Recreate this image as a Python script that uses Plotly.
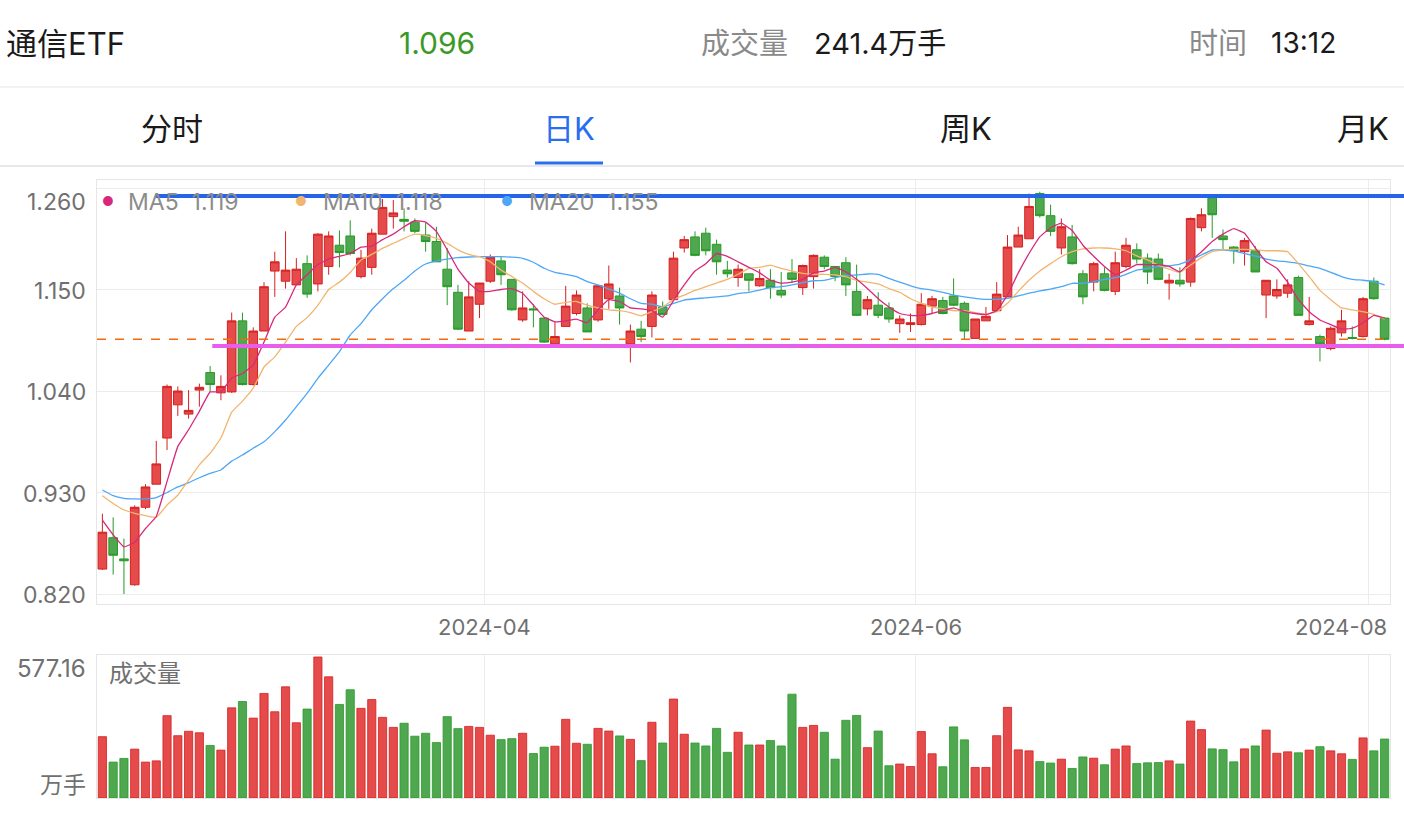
import plotly.graph_objects as go

# ---------------- data ----------------
open_ = [0.847,0.881,0.858,0.830,0.914,0.939,0.989,1.025,1.015,1.041,
         1.060,1.038,1.039,1.116,1.047,1.105,1.170,1.159,1.155,1.178,
         1.156,1.175,1.198,1.208,1.164,1.174,1.210,1.229,1.226,1.223,
         1.209,1.202,1.172,1.147,1.105,1.134,1.159,1.181,1.161,1.117,
         1.129,1.119,1.091,1.110,1.124,1.130,1.117,1.140,1.143,1.091,
         1.107,1.110,1.131,1.139,1.195,1.207,1.211,1.199,1.171,1.163,
         1.167,1.154,1.160,1.149,1.168,1.152,1.164,1.185,1.175,1.179,
         1.148,1.129,1.133,1.130,1.113,1.112,1.112,1.132,1.138,1.143,
         1.135,1.097,1.116,1.127,1.142,1.196,1.205,1.254,1.230,1.195,
         1.207,1.167,1.158,1.167,1.148,1.175,1.193,1.184,1.183,1.157,
         1.160,1.158,1.217,1.249,1.208,1.196,1.191,1.192,1.144,1.143,
         1.146,1.163,1.112,1.099,1.086,1.103,1.098,1.099,1.159,1.119]
high = [0.907,0.903,0.880,0.916,0.939,0.986,1.047,1.045,1.041,1.048,
        1.067,1.057,1.125,1.125,1.109,1.158,1.191,1.213,1.184,1.187,
        1.211,1.213,1.214,1.225,1.193,1.216,1.248,1.247,1.238,1.227,
        1.222,1.218,1.195,1.155,1.159,1.157,1.188,1.186,1.161,1.148,
        1.134,1.119,1.115,1.154,1.149,1.135,1.155,1.176,1.152,1.112,
        1.116,1.148,1.137,1.191,1.208,1.213,1.217,1.204,1.181,1.177,
        1.167,1.172,1.172,1.169,1.183,1.177,1.188,1.187,1.175,1.185,
        1.177,1.143,1.147,1.136,1.122,1.124,1.146,1.143,1.142,1.162,
        1.137,1.118,1.131,1.158,1.209,1.218,1.254,1.256,1.242,1.227,
        1.220,1.171,1.180,1.174,1.191,1.206,1.200,1.189,1.189,1.167,
        1.174,1.228,1.238,1.251,1.215,1.197,1.206,1.197,1.160,1.161,
        1.161,1.165,1.142,1.101,1.110,1.128,1.110,1.142,1.163,1.120]
low = [0.846,0.841,0.820,0.829,0.912,0.939,0.976,1.013,1.010,1.023,
       1.039,1.030,1.038,1.046,1.046,1.105,1.142,1.151,1.155,1.141,
       1.148,1.166,1.174,1.187,1.162,1.166,1.210,1.216,1.213,1.211,
       1.191,1.180,1.133,1.106,1.105,1.119,1.157,1.155,1.127,1.115,
       1.109,1.092,1.089,1.110,1.122,1.104,1.115,1.129,1.112,1.071,
       1.093,1.098,1.122,1.139,1.190,1.186,1.187,1.166,1.163,1.153,
       1.148,1.153,1.140,1.141,1.157,1.144,1.151,1.172,1.159,1.143,
       1.122,1.122,1.119,1.114,1.103,1.104,1.111,1.124,1.123,1.132,
       1.096,1.097,1.116,1.127,1.142,1.196,1.205,1.228,1.208,1.188,
       1.177,1.134,1.148,1.148,1.144,1.173,1.178,1.156,1.160,1.139,
       1.153,1.153,1.213,1.206,1.193,1.178,1.176,1.169,1.119,1.140,
       1.141,1.122,1.111,1.072,1.084,1.099,1.096,1.098,1.139,1.095]
close = [0.887,0.862,0.856,0.914,0.936,0.961,1.045,1.040,1.019,1.044,
         1.047,1.045,1.116,1.047,1.105,1.153,1.180,1.171,1.172,1.145,
         1.210,1.208,1.190,1.189,1.184,1.211,1.239,1.233,1.224,1.213,
         1.202,1.180,1.153,1.107,1.142,1.157,1.185,1.166,1.128,1.130,
         1.128,1.093,1.099,1.132,1.144,1.104,1.154,1.156,1.130,1.105,
         1.099,1.144,1.123,1.184,1.204,1.187,1.192,1.180,1.167,1.172,
         1.160,1.162,1.152,1.144,1.161,1.176,1.187,1.175,1.164,1.155,
         1.122,1.139,1.122,1.118,1.118,1.114,1.134,1.140,1.124,1.133,
         1.105,1.118,1.121,1.145,1.196,1.209,1.240,1.230,1.213,1.218,
         1.178,1.142,1.178,1.149,1.179,1.198,1.183,1.169,1.161,1.160,
         1.156,1.227,1.231,1.231,1.204,1.192,1.203,1.169,1.160,1.150,
         1.155,1.122,1.116,1.091,1.108,1.116,1.097,1.140,1.140,1.096]
volume = [251,147,162,200,147,152,337,255,273,267,
          215,196,369,395,327,428,353,455,308,364,
          577.16,496,383,443,367,403,330,289,306,253,
          265,227,333,284,293,289,257,239,243,265,
          182,208,212,322,224,220,285,274,254,240,
          153,310,225,405,261,225,213,285,187,269,
          217,217,235,213,425,289,297,269,159,318,
          338,206,274,132,139,129,272,181,128,291,
          238,125,125,255,371,197,193,149,143,159,
          121,168,163,136,200,213,141,144,145,152,
          139,315,280,201,198,148,201,213,278,183,
          189,185,196,210,193,181,158,246,193,241.4]
ma5 = [0.900,0.884,0.871,0.876,0.891,0.904,0.942,0.980,0.998,1.018,
       1.039,1.039,1.054,1.059,1.068,1.093,1.120,1.131,1.155,1.166,
       1.177,1.183,1.186,1.189,1.196,1.197,1.204,1.210,1.218,1.2245,
       1.223,1.213,1.193,1.172,1.157,1.148,1.148,1.150,1.151,1.146,
       1.133,1.120,1.115,1.116,1.118,1.114,1.128,1.139,1.137,1.130,
       1.129,1.127,1.120,1.138,1.155,1.170,1.178,1.189,1.186,1.180,
       1.174,1.168,1.160,1.157,1.158,1.161,1.168,1.170,1.174,1.169,
       1.161,1.151,1.140,1.131,1.124,1.122,1.122,1.124,1.127,1.130,
       1.126,1.124,1.123,1.127,1.144,1.168,1.189,1.207,1.217,1.222,
       1.214,1.198,1.186,1.175,1.166,1.171,1.177,1.177,1.177,1.175,
       1.169,1.181,1.191,1.202,1.210,1.216,1.211,1.195,1.180,1.173,
       1.158,1.139,1.126,1.117,1.112,1.107,1.108,1.114,1.122,1.119]
ma10 = [0.9265,0.918,0.911,0.9075,0.905,0.903,0.9165,0.927,0.9435,0.960,
        0.9725,0.989,1.017,1.029,1.043,1.066,1.077,1.093,1.110,1.1195,
        1.133,1.150,1.158,1.1685,1.182,1.188,1.1945,1.200,1.2055,1.210,
        1.2085,1.2055,1.200,1.193,1.188,1.1855,1.180,1.171,1.164,1.157,
        1.148,1.140,1.134,1.136,1.137,1.133,1.130,1.128,1.127,1.125,
        1.1215,1.126,1.131,1.139,1.144,1.149,1.153,1.157,1.161,1.1665,
        1.173,1.174,1.1765,1.173,1.170,1.1675,1.1665,1.1665,1.1657,1.164,
        1.160,1.158,1.156,1.151,1.147,1.140,1.135,1.131,1.129,1.127,
        1.127,1.125,1.123,1.126,1.135,1.148,1.160,1.170,1.178,1.1855,
        1.191,1.194,1.195,1.195,1.194,1.192,1.1865,1.182,1.1765,1.172,
        1.1685,1.1765,1.1845,1.191,1.193,1.1935,1.1935,1.193,1.192,1.192,
        1.191,1.178,1.164,1.149,1.139,1.130,1.128,1.126,1.123,1.118]
ma20 = [0.9327,0.9265,0.9237,0.923,0.923,0.9245,0.930,0.936,0.9406,0.946,
        0.9508,0.9544,0.964,0.9706,0.978,0.985,0.996,1.0086,1.023,1.0375,
        1.0538,1.068,1.0826,1.1007,1.113,1.128,1.140,1.151,1.160,1.170,
        1.1776,1.181,1.183,1.1845,1.1852,1.1856,1.1856,1.1856,1.185,1.1838,
        1.1795,1.173,1.1686,1.1665,1.164,1.1585,1.155,1.1505,1.146,1.140,
        1.135,1.134,1.131,1.135,1.1386,1.140,1.141,1.142,1.143,1.1455,
        1.147,1.1494,1.152,1.153,1.155,1.1574,1.1595,1.160,1.1628,1.165,
        1.1657,1.1668,1.1665,1.162,1.158,1.154,1.151,1.1494,1.147,1.144,
        1.142,1.1405,1.1394,1.1394,1.1405,1.143,1.146,1.1484,1.1505,1.153,
        1.1567,1.1567,1.1585,1.161,1.1628,1.1665,1.171,1.173,1.1747,1.1757,
        1.1776,1.182,1.1874,1.1928,1.1928,1.192,1.189,1.1863,1.183,1.181,
        1.180,1.1784,1.1755,1.173,1.1686,1.164,1.161,1.160,1.1585,1.155]

month_labels = ["2024-04", "2024-06", "2024-08"]
month_start_idx = [36, 76, 118]          # first trading day of each labelled month
y_ticks = [0.820, 0.930, 1.040, 1.150, 1.260]
level_blue = 1.2513                       # drawn resistance line
level_blue_start = 4.9
level_magenta = 1.0888                    # drawn support line
level_magenta_start = 10.2
stock_name = "通信ETF"
quote_time = "13:12"
tabs = ["分时", "日K", "周K", "月K"]
active_tab = 1

# ---------------- styling ----------------
W, H = 1404, 816
FONT = "Inter, Noto Sans CJK SC, sans-serif"
RED, RED_LINE = "#E54B4B", "#D42020"
GREEN, GREEN_LINE = "#4FA84F", "#279A27"
C_MA5, C_MA10, C_MA20 = "#D8287C", "#F2B56E", "#4DA7F7"
GRID = "#ECECEC"
LABEL = "#707070"

def PX(p): return p / W
def PY(p): return 1 - p / H

N = len(close)
idx = list(range(N))

# price panel geometry
P_TOP, P_BOT = 180, 604          # box pixels
G_TOP, G_BOT = 188, 594          # pixels of 1.26 and 0.82
k = (y_ticks[-1] - y_ticks[0]) / (G_BOT - G_TOP)
y_lo = y_ticks[0] - (P_BOT - G_BOT) * k
y_hi = y_ticks[-1] + (G_TOP - P_TOP) * k
X_L, X_R = 97, 1390
V_TOP, V_BOT = 655, 798
vmax = max(volume)
v_hi = vmax * (V_BOT - V_TOP) / (V_BOT - 657)

def val_to_paper(v):
    d0, d1 = PY(P_BOT), PY(P_TOP)
    return d0 + (v - y_lo) / (y_hi - y_lo) * (d1 - d0)

def idx_to_paper(i):
    return PX(X_L) + (i + 0.5) / N * (PX(X_R) - PX(X_L))

fig = go.Figure()

fig.add_trace(go.Candlestick(
    x=idx, open=open_, high=high, low=low, close=close,
    increasing=dict(fillcolor=RED, line=dict(color=RED_LINE, width=1)),
    decreasing=dict(fillcolor=GREEN, line=dict(color=GREEN_LINE, width=1)),
    whiskerwidth=0, xaxis="x", yaxis="y", hoverinfo="skip", showlegend=False))

for ma, col in [(ma20, C_MA20), (ma10, C_MA10), (ma5, C_MA5)]:
    fig.add_trace(go.Scatter(x=idx, y=ma, mode="lines",
                             line=dict(color=col, width=1.3, shape="spline", smoothing=0.3),
                             xaxis="x", yaxis="y", hoverinfo="skip", showlegend=False))

up = [c >= o for o, c in zip(open_, close)]
fig.add_trace(go.Bar(
    x=idx, y=volume, width=0.76,
    marker=dict(color=[RED if u else GREEN for u in up],
                line=dict(color=[RED_LINE if u else GREEN_LINE for u in up], width=0.8)),
    xaxis="x2", yaxis="y2", hoverinfo="skip", showlegend=False))

grid_x = [i - 0.5 for i in month_start_idx]

axis_common = dict(showline=True, mirror=True, linecolor="#E6E6E6", linewidth=1,
                   zeroline=False, fixedrange=True, ticks="")
fig.update_layout(
    width=W, height=H, autosize=False,
    margin=dict(l=0, r=0, t=0, b=0),
    paper_bgcolor="white", plot_bgcolor="white",
    boxgap=0.2, boxgroupgap=0,
    font=dict(family=FONT),
    xaxis=dict(domain=[PX(X_L), PX(X_R)], range=[-0.5, N - 0.5], anchor="y",
               tickvals=grid_x, showticklabels=False, showgrid=True, gridcolor=GRID,
               rangeslider=dict(visible=False), **axis_common),
    yaxis=dict(domain=[PY(P_BOT), PY(P_TOP)], range=[y_lo, y_hi], anchor="x",
               tickvals=y_ticks, showticklabels=False, showgrid=True, gridcolor=GRID,
               **axis_common),
    xaxis2=dict(domain=[PX(X_L), PX(X_R)], range=[-0.5, N - 0.5], anchor="y2",
                tickvals=grid_x, showticklabels=False, showgrid=True, gridcolor=GRID,
                **axis_common),
    yaxis2=dict(domain=[PY(V_BOT), PY(V_TOP)], range=[0, v_hi], anchor="x2",
                showticklabels=False, showgrid=False, **axis_common),
)

shapes = []
# header separators and tab underline
shapes.append(dict(type="line", xref="paper", yref="paper", x0=0, x1=1, y0=PY(87), y1=PY(87),
                   line=dict(color="#EEEEEE", width=1.5)))
shapes.append(dict(type="line", xref="paper", yref="paper", x0=0, x1=1, y0=PY(166), y1=PY(166),
                   line=dict(color="#E8E8E8", width=2)))
shapes.append(dict(type="line", xref="paper", yref="paper", x0=PX(535), x1=PX(603),
                   y0=PY(163), y1=PY(163), line=dict(color="#2A6EF0", width=3)))
# current price dashed line
shapes.append(dict(type="line", xref="paper", yref="paper", x0=PX(X_L), x1=PX(X_R),
                   y0=val_to_paper(close[-1]), y1=val_to_paper(close[-1]),
                   line=dict(color="#F06A10", width=1.5, dash="dash")))
# drawn support / resistance lines
shapes.append(dict(type="line", xref="paper", yref="paper", x0=idx_to_paper(level_blue_start), x1=1,
                   y0=val_to_paper(level_blue), y1=val_to_paper(level_blue),
                   line=dict(color="#2563EB", width=4)))
shapes.append(dict(type="line", xref="paper", yref="paper", x0=idx_to_paper(level_magenta_start), x1=1,
                   y0=val_to_paper(level_magenta), y1=val_to_paper(level_magenta),
                   line=dict(color="#E85EEA", width=4)))
fig.update_layout(shapes=shapes)

ann = []
def text(x, y, s, size, color, xanchor="left", xref="paper", yref="paper", yshift=0):
    ann.append(dict(x=x, y=y, xref=xref, yref=yref, text=s, showarrow=False,
                    xanchor=xanchor, yanchor="middle", yshift=yshift,
                    font=dict(family=FONT, size=size, color=color)))

# header
text(PX(4), PY(43), stock_name, 31, "#1A1A1A")
text(PX(437), PY(43), f"{close[-1]:.3f}", 30, "#3B9A27", xanchor="center")
text(PX(699), PY(43), "成交量", 29, "#8A8A8A")
text(PX(812), PY(43), f"{volume[-1]:.1f}万手", 29, "#1A1A1A")
text(PX(1187), PY(43), "时间", 29, "#8A8A8A")
text(PX(1269), PY(43), quote_time, 28, "#1A1A1A")
for i, (t, cx) in enumerate(zip(tabs, [172, 569, 966, 1363])):
    text(PX(cx), PY(128), t, 31, "#2A6EF0" if i == active_tab else "#1A1A1A", xanchor="center")

# y tick labels
for v in y_ticks:
    text(PX(88), v, f"{v:.3f}", 23, LABEL, xanchor="right", yref="y",
         yshift=-14 if v == y_ticks[-1] else -1)
# x tick labels
for j, (lab, i0) in enumerate(zip(month_labels, month_start_idx)):
    if j == len(month_labels) - 1:
        text(PX(1389), PY(627), lab, 22, LABEL, xanchor="right")
    else:
        text(i0 - 0.5, PY(627), lab, 22, LABEL, xanchor="center", xref="x")

# MA legend
for name, series, col, dx, tx in [("MA5", ma5, C_MA5, 108, 126),
                                  ("MA10", ma10, C_MA10, 301, 321),
                                  ("MA20", ma20, C_MA20, 507, 527)]:
    text(PX(dx), PY(201), "●", 13, col, xanchor="center")
    text(PX(tx), PY(202), f"{name}\u00a0\u00a0{series[-1]:.3f}", 23, "#8C8C8C")

# volume labels
text(PX(88), PY(668), f"{vmax:.2f}", 24, LABEL, xanchor="right")
text(PX(88), PY(785), "万手", 23, LABEL, xanchor="right")
text(PX(107), PY(673), "成交量", 24, LABEL)

fig.update_layout(annotations=ann)
fig.write_html("out.html")
